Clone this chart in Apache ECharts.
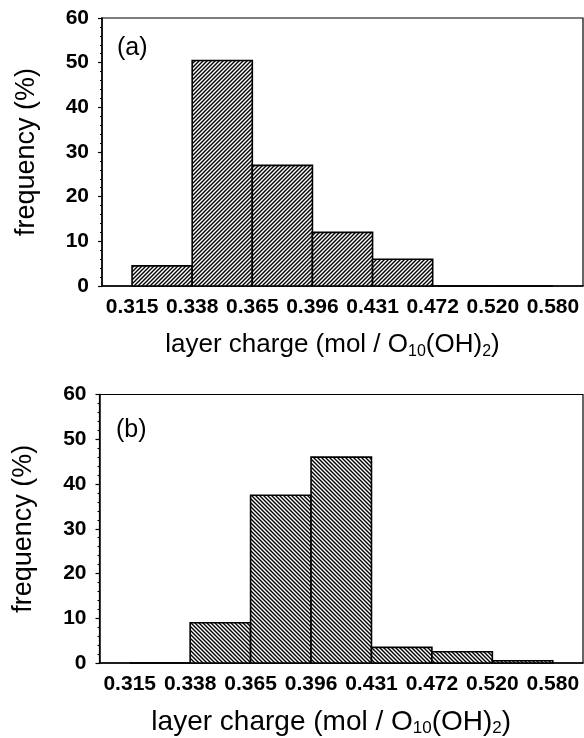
<!DOCTYPE html>
<html>
<head>
<meta charset="utf-8">
<script src="https://cdn.jsdelivr.net/npm/echarts@6/dist/echarts.min.js"></script>
<style>
html,body{margin:0;padding:0;background:#fff;}
#c{width:584px;height:738px;}
</style>
</head>
<body>
<div id="c"></div>
<script>
// ---- data ----
const edgeLabels = ['0.315','0.338','0.365','0.396','0.431','0.472','0.520','0.580'];
const binStart = [0, 1, 2, 3, 4, 5, 6];
const freqA = [4.5, 50.5, 27, 12, 6, 0, 0];
const freqB = [0, 9, 37.5, 46, 3.5, 2.5, 0.5];
const yMin = 0, yMax = 60, yStep = 10;
const panelLabels = ['(a)', '(b)'];

// ---- hatch patterns ----
function hatch(dir) {
  const s = 4;
  const cv = document.createElement('canvas');
  cv.width = s; cv.height = s;
  const g = cv.getContext('2d');
  g.fillStyle = '#fff'; g.fillRect(0, 0, s, s);
  g.strokeStyle = '#000'; g.lineWidth = 1.4;
  g.beginPath();
  if (dir > 0) {
    g.moveTo(-1, s + 1); g.lineTo(s + 1, -1);
    g.moveTo(-1, 1); g.lineTo(1, -1);
    g.moveTo(s - 1, s + 1); g.lineTo(s + 1, s - 1);
  } else {
    g.moveTo(-1, -1); g.lineTo(s + 1, s + 1);
    g.moveTo(s - 1, -1); g.lineTo(s + 1, 1);
    g.moveTo(-1, s - 1); g.lineTo(1, s + 1);
  }
  g.stroke();
  return { image: cv, repeat: 'repeat' };
}
const patA = hatch(1), patB = hatch(-1);

const FONT = 'Liberation Sans';
const grids = [
  { left: 102, right: 1, top: 18, height: 268 },
  { left: 99.5, right: 1, top: 394.5, height: 269 }
];
const titleSizes = [26, 28];

function xAxis(i) {
  return {
    type: 'category', gridIndex: i, data: edgeLabels, boundaryGap: true,
    axisLine: { lineStyle: { color: '#000', width: 1.5 } },
    axisTick: { show: false },
    axisLabel: { color: '#000', fontFamily: FONT, fontSize: 21, fontWeight: 'bold', margin: 11, interval: 0 },
    name: 'layer charge (mol / O{sub|10}(OH){sub|2})',
    nameLocation: 'middle', nameGap: 44,
    nameTextStyle: {
      color: '#000', fontFamily: FONT, fontSize: titleSizes[i], lineHeight: 30, verticalAlign: 'top',
      padding: [0, 20, 0, 0],
      rich: { sub: { fontFamily: FONT, fontSize: Math.round(titleSizes[i] * 0.62), verticalAlign: 'bottom', lineHeight: 14, color: '#000' } }
    }
  };
}
function yAxis(i) {
  return {
    type: 'value', gridIndex: i, min: yMin, max: yMax, interval: yStep,
    axisLine: { show: true, lineStyle: { color: '#000', width: 1.5 } },
    axisTick: { show: true, length: 4, lineStyle: { color: '#000', width: 1.2 } },
    minorTick: { show: true, splitNumber: 5, length: 2, lineStyle: { color: '#000' } },
    splitLine: { show: false },
    axisLabel: { color: '#000', fontFamily: FONT, fontSize: 21, fontWeight: 'bold', margin: 13 },
    name: 'frequency (%)', nameLocation: 'middle', nameGap: 62,
    nameTextStyle: { color: '#000', fontFamily: FONT, fontSize: 27 }
  };
}
function series(i, vals, pat) {
  return {
    type: 'custom', xAxisIndex: i, yAxisIndex: i,
    data: binStart.map((b, k) => [b, vals[k]]),
    renderItem: function (params, api) {
      const s = api.value(0), v = api.value(1);
      const p0 = api.coord([s, v]);
      const p1 = api.coord([s + 1, 0]);
      return {
        type: 'rect',
        shape: { x: p0[0], y: p0[1], width: p1[0] - p0[0], height: p1[1] - p0[1] },
        style: { fill: pat, stroke: '#000', lineWidth: 1.6 }
      };
    }
  };
}

const chart = echarts.init(document.getElementById('c'), null, { renderer: 'canvas' });
chart.setOption({
  animation: false,
  backgroundColor: '#fff',
  grid: grids.map(g => Object.assign({ show: true, borderColor: '#000', borderWidth: 1.2, backgroundColor: 'transparent' }, g)),
  xAxis: [xAxis(0), xAxis(1)],
  yAxis: [yAxis(0), yAxis(1)],
  series: [series(0, freqA, patA), series(1, freqB, patB)],
  graphic: [
    { type: 'text', left: 117, top: 36, style: { text: panelLabels[0], font: '25px "Liberation Sans"', fill: '#000' } },
    { type: 'text', left: 116, top: 418, style: { text: panelLabels[1], font: '25px "Liberation Sans"', fill: '#000' } }
  ]
});
</script>
</body>
</html>
